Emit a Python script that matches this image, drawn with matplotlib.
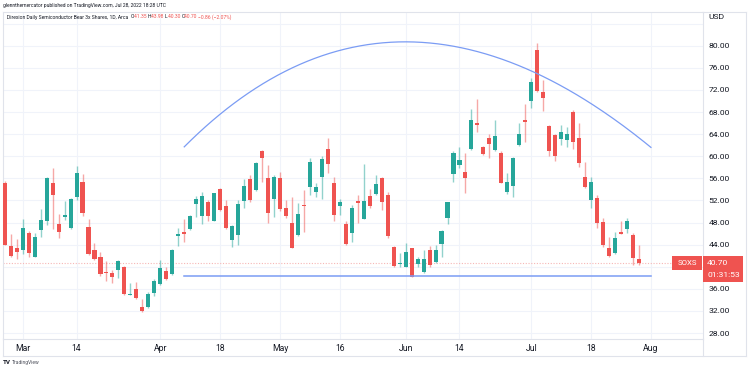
import numpy as np
import pandas as pd
import matplotlib
matplotlib.use("Agg")
import matplotlib.pyplot as plt
from matplotlib.lines import Line2D
from matplotlib.patches import Rectangle

# SOXS daily candles, Feb 24 - Jul 28 2022
holidays = ["2022-04-15", "2022-05-30", "2022-06-20", "2022-07-04"]
days = pd.bdate_range("2022-02-24", "2022-08-12", freq="C", holidays=holidays)

opens = [55.1, 43.8, 43.35, 43.0, 46.2, 41.8, 46.7, 48.3, 55.1, 47.7,
         49.0, 47.0, 52.7, 55.3, 47.25, 43.0, 41.8, 39.1, 38.95, 39.4,
         39.9, 34.85, 35.9, 32.7, 32.8, 35.2, 36.9, 39.2, 38.7, 45.6,
         46.25, 46.8, 51.35, 49.1, 51.7, 48.35, 54.0, 51.0, 44.85, 45.75,
         51.9, 55.8, 53.9, 61.0, 56.1, 52.3, 56.0, 50.7, 48.0, 45.7,
         51.2, 54.4, 53.6, 56.3, 61.4, 55.2, 51.0, 47.7, 46.2, 51.9,
         48.6, 52.8, 53.2, 56.0, 53.0, 43.6, 40.45, 40.0, 43.35, 40.5,
         39.1, 43.0, 40.9, 44.1, 48.9, 56.7, 58.5, 57.15, 61.25, 66.1,
         61.7, 63.35, 61.1, 60.5, 53.6, 54.6, 62.0, 66.6, 70.05, 79.2,
         71.6, 65.5, 63.85, 63.05, 62.9, 67.95, 63.25, 56.2, 52.0, 52.5,
         48.05, 43.35, 42.45, 46.25, 46.8, 45.75, 41.35]
highs = [55.6, 45.9, 45.0, 48.6, 46.55, 46.1, 50.4, 56.2, 57.8, 49.5,
         51.9, 52.4, 58.2, 56.8, 48.6, 44.25, 42.7, 41.0, 39.4, 41.2,
         40.2, 37.0, 37.3, 34.2, 35.5, 37.75, 41.2, 39.9, 43.15, 47.1,
         48.6, 49.4, 52.8, 53.6, 52.0, 53.4, 54.2, 52.0, 47.55, 52.1,
         55.8, 56.6, 58.9, 61.1, 58.4, 56.6, 57.2, 52.0, 52.7, 51.5,
         53.9, 59.6, 55.1, 60.0, 63.25, 56.3, 52.2, 48.2, 51.2, 52.9,
         58.6, 54.1, 56.6, 56.2, 53.6, 43.75, 42.5, 44.35, 43.45, 41.7,
         43.0, 43.75, 43.9, 46.65, 51.8, 61.0, 61.7, 60.6, 68.5, 70.3,
         61.85, 64.0, 66.55, 61.0, 56.9, 59.8, 66.1, 69.4, 74.2, 80.4,
         73.8, 65.65, 64.0, 65.65, 65.35, 68.4, 66.0, 58.9, 56.2, 53.0,
         48.8, 45.3, 46.25, 48.3, 48.8, 46.05, 43.98]
lows = [43.9, 41.8, 41.35, 42.4, 41.7, 41.7, 45.45, 47.6, 46.8, 45.15,
        48.45, 46.85, 52.0, 49.2, 42.1, 41.2, 38.3, 37.5, 37.0, 37.9,
        34.9, 34.85, 34.1, 31.9, 32.5, 34.7, 36.7, 37.6, 38.5, 43.8,
        44.5, 46.65, 49.05, 47.7, 48.2, 48.2, 50.15, 46.8, 43.6, 43.9,
        50.6, 51.8, 53.7, 55.4, 47.9, 49.05, 50.15, 48.8, 43.35, 45.6,
        46.35, 53.0, 52.6, 52.3, 56.9, 48.3, 49.4, 43.95, 44.5, 47.9,
        48.6, 50.6, 53.0, 50.3, 45.15, 40.0, 40.0, 39.9, 38.1, 40.0,
        38.8, 40.0, 40.7, 41.8, 47.7, 55.3, 57.8, 53.3, 61.1, 64.3,
        60.2, 59.7, 61.0, 55.1, 53.2, 52.7, 61.85, 62.6, 68.7, 71.7,
        68.2, 60.05, 59.15, 62.0, 61.7, 61.3, 58.1, 54.3, 50.7, 47.0,
        43.5, 41.8, 42.3, 45.9, 46.2, 40.3, 40.3]
closes = [43.9, 41.95, 42.7, 47.1, 42.55, 45.3, 48.5, 56.0, 52.9, 46.3,
          49.2, 52.2, 57.0, 49.7, 42.3, 41.35, 38.7, 38.8, 38.2, 41.1,
          35.1, 35.1, 34.3, 32.0, 35.1, 37.5, 39.7, 37.7, 43.0, 45.9,
          45.9, 49.2, 52.25, 52.8, 49.1, 53.3, 50.3, 47.0, 47.4, 51.35,
          54.7, 52.0, 58.7, 59.7, 49.8, 56.3, 50.45, 49.2, 43.45, 49.55,
          50.95, 58.9, 54.5, 59.5, 58.6, 49.4, 51.8, 44.1, 50.7, 51.5,
          51.9, 51.05, 55.0, 51.7, 45.55, 40.2, 40.75, 42.75, 38.2, 41.4,
          41.4, 40.3, 43.0, 46.5, 51.7, 60.5, 59.3, 56.1, 66.6, 65.7,
          60.35, 62.3, 63.65, 55.2, 55.3, 59.7, 64.0, 66.15, 73.5, 71.8,
          70.5, 61.0, 60.1, 64.45, 64.0, 62.6, 58.7, 54.5, 55.3, 47.9,
          43.9, 42.0, 45.15, 46.0, 48.35, 41.5, 40.7]

tick_dates = ["2022-03-01", "2022-03-14", "2022-04-01", "2022-04-18", "2022-05-02", "2022-05-16",
              "2022-06-01", "2022-06-14", "2022-07-01", "2022-07-18", "2022-08-01"]
tick_names = ["Mar", "14", "Apr", "18", "May", "16", "Jun", "14", "Jul", "18", "Aug"]
price_grid = [28, 32, 36, 40, 44, 48, 52, 56, 60, 64, 68, 72, 76, 80, 84]
price_labels = [28, 32, 36, 44, 48, 52, 56, 60, 64, 68, 72, 76, 80]  # 40 sits under the price tag

# drawings: arc (start, top, end) and support line
arc_start = ("2022-04-07", 61.7)
arc_top = ("2022-06-01", 80.7)
arc_end = ("2022-08-01", 61.6)
support = ("2022-04-07", "2022-08-01", 38.3)

UP, DOWN = "#26a69a", "#ef5350"
TXT = "#131722"
BORDER = "#e0e3eb"
W, H = 750, 371


def fx(px):
    return px / W


def fy(py):
    return 1 - py / H


def pos(d):
    return days.get_loc(pd.Timestamp(d))


n = len(closes)
x = np.arange(n)
o, hi, lo, c = map(np.array, (opens, highs, lows, closes))
up = c >= o
body_col = np.where(up, UP, DOWN)

plt.rcParams['font.family'] = ['Roboto', 'DejaVu Sans']
fig = plt.figure(figsize=(7.5, 3.71), dpi=100)
fig.patch.set_facecolor("white")
ax = fig.add_axes([fx(3), fy(339), fx(700), (339 - 11.5) / H])

# grid
for p in price_grid:
    ax.axhline(p, color="#f0f3fa", lw=0.8, zorder=0)
for d in tick_dates:
    ax.axvline(pos(d), color="#f0f3fa", lw=0.8, zorder=0)

# candles
ax.vlines(x, lo, hi, colors=body_col, lw=1, alpha=0.5, zorder=2)
heights = np.maximum(np.abs(c - o), 0.28)
ax.bar(x, heights, bottom=np.minimum(o, c), width=0.68, color=body_col, zorder=3, linewidth=0)

# arc drawing as quadratic curve through start / top / end
p0 = np.array([pos(arc_start[0]), arc_start[1]], dtype=float)
p2 = np.array([pos(arc_end[0]), arc_end[1]], dtype=float)
pt = np.array([pos(arc_top[0]), arc_top[1]], dtype=float)
p1 = (4 * pt - p0 - p2) / 2
t = np.linspace(0, 1, 300)[:, None]
curve = (1 - t) ** 2 * p0 + 2 * t * (1 - t) * p1 + t ** 2 * p2
ax.plot(curve[:, 0], curve[:, 1], color="#7b9cf4", lw=0.9, zorder=4)
ax.plot([pos(support[0]), pos(support[1])], [support[2], support[2]], color="#7b9cf4", lw=1.1, zorder=4)

# last price line
last = closes[-1]
ax.axhline(last, color="#f6b7b6", lw=0.8, ls=(0, (1, 1.5)), zorder=1)

ax.set_xlim(-0.29, 116.7)
ax.set_ylim(26.93, 86.19)
ax.set_xticks([pos(d) for d in tick_dates])
ax.set_xticklabels(tick_names)
ax.set_yticks(price_labels)
ax.set_yticklabels([f"{p:.2f}" for p in price_labels])
ax.yaxis.tick_right()
ax.tick_params(axis="y", length=0, pad=3.8, labelsize=6.1, labelcolor=TXT)
ax.tick_params(axis="x", length=0, pad=3.5, labelsize=6.2, labelcolor=TXT)
for lab in ax.get_yticklabels():
    lab.set_horizontalalignment("left")
for s in ax.spines.values():
    s.set_color(BORDER)
    s.set_linewidth(0.8)

# outer frame of price/time axes
for xs, ys in [((703, 746), (11.5, 11.5)), ((746, 746), (11.5, 356)), ((3, 746), (356, 356)),
               ((3, 3), (339, 356)), ((703, 703), (339, 356))]:
    fig.add_artist(Line2D([fx(xs[0]), fx(xs[1])], [fy(ys[0]), fy(ys[1])], color=BORDER, lw=0.8))

fig.text(fx(708), fy(17), "USD", fontsize=6.1, color=TXT, va="center")

# last price tags
ly = ax.transData.transform((0, last))[1]
ly_px = H - ly
fig.add_artist(Rectangle((fx(703), fy(ly_px + 19.5)), fx(40), 26 / H, color=DOWN, lw=0))
fig.text(fx(707), fy(ly_px), "40.70", fontsize=6.1, color="white", va="center")
fig.text(fx(707), fy(ly_px + 12), "01:31:53", fontsize=6.1, color="white", va="center")
fig.add_artist(Rectangle((fx(672), fy(ly_px + 7)), fx(30), 14 / H, color=DOWN, lw=0))
fig.text(fx(687), fy(ly_px), "SOXS", fontsize=5.6, color="white", va="center", ha="center")

# header
fig.text(fx(3), fy(6), "glennthemercator published on TradingView.com, Jul 28, 2022 18:28 UTC",
         fontsize=3.65, color=TXT, va="center")
renderer = fig.canvas.get_renderer()
parts = [("Direxion Daily Semiconductor Bear 3x Shares, 1D, Arca  ", TXT),
         ("O", TXT), ("41.35 ", DOWN), ("H", TXT), ("43.98 ", DOWN), ("L", TXT), ("40.30 ", DOWN),
         ("C", TXT), ("40.70 ", DOWN), ("\u22120.86 (\u22122.07%)", DOWN)]
cx = 7
for s, col in parts:
    tx = fig.text(fx(cx), fy(17), s, fontsize=3.65, color=col, va="center")
    cx += tx.get_window_extent(renderer).width

# footer logo
fig.text(fx(3), fy(362.5), "TV", fontsize=4.5, fontweight="bold", color=TXT, va="center")
fig.text(fx(12), fy(362.5), "TradingView", fontsize=3.6, color="#50535e", va="center")

fig.savefig("out.png", dpi=100, facecolor="white")
